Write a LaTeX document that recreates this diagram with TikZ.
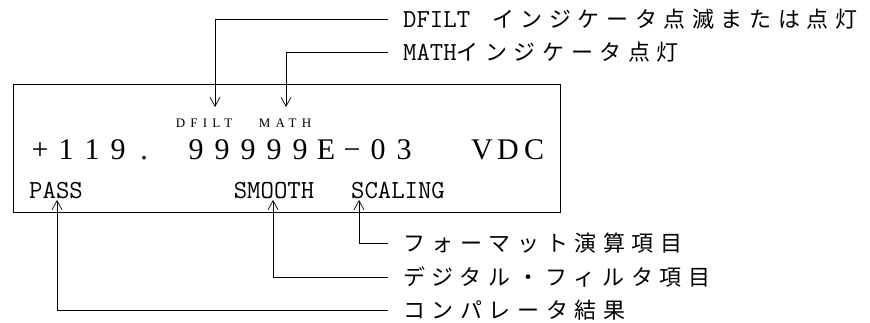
\documentclass[tikz,border=0pt]{standalone}
\usepackage{fontspec}
\usepackage{tikz}
\usetikzlibrary{arrows.meta, positioning}
\setmainfont{Liberation Serif}
\newfontfamily\lcdfont{Liberation Serif}
\newfontfamily\halffont{Latin Modern Mono}
\newfontfamily\tinyfont[LetterSpace=40]{Liberation Serif}
\newfontfamily\jpfont[LetterSpace=30]{Noto Sans CJK JP}
\newcommand{\halfw}[1]{{\fontsize{26}{26}\selectfont\halffont #1}}
\tikzset{
  panel/.style={draw, line width=0.8pt},
  pointer/.style={-{Straight Barb[length=9pt,width=10pt]}, line width=0.7pt},
  digit/.style={inner sep=0pt, anchor=base, font=\fontsize{30}{30}\selectfont\lcdfont},
  flag/.style={inner sep=0pt, anchor=base, font=\fontsize{26}{26}\selectfont\halffont},
  annun/.style={inner sep=0pt, anchor=base, font=\fontsize{13}{13}\selectfont\tinyfont},
  note/.style={anchor=west, inner xsep=15pt, inner ysep=0pt, font=\fontsize{22}{22}\selectfont\jpfont}
}

\begin{document}
\begin{tikzpicture}[x=1pt, y=-1pt]
  \useasboundingbox (0,0) rectangle (870,322);
  % display window
  \draw[panel] (13,84) rectangle (560,212);

  % main readout, one cell per character
  \foreach \x/\ch in {0/+,1/1,2/1,3/9,4/.,6/9,7/9,8/9,9/9,10/9,11/E,12/−,13/0,14/3,17/V,18/D,19/C}
    \node[digit] (dig\x) at (40+26*\x, 159) {\ch};

  % annunciators
  \node[annun] (sDfilt) at (204,127) {DFILT};
  \node[annun] (sMath) at (285,127) {MATH};

  % status words
  \node[flag] (sPass) at (56,198) {PASS};
  \node[flag] (sSmooth) at (274,198) {SMOOTH};
  \node[flag] (sScale) at (398,198) {SCALING};

  % explanations
  \node[note] (lblDfilt) at (388,19) {\halfw{DFILT}\hspace{22pt}インジケータ点滅または点灯};
  \node[note] (lblMath) at (388,52) {\halfw{MATH}インジケータ点灯};
  \node[note] (lblFormat) at (388,243) {フォーマット演算項目};
  \node[note] (lblFilter) at (388,277) {デジタル・フィルタ項目};
  \node[note] (lblComp) at (388,310) {コンパレータ結果};

  % arrow tips
  \coordinate (tDfilt) at (215,107);
  \coordinate (tMath) at (286,107);
  \coordinate (tPass) at (57,200);
  \coordinate (tSmooth) at (273,200);
  \coordinate (tScale) at (359,200);

  \draw[pointer] (lblDfilt.west) -| (tDfilt);
  \draw[pointer] (lblMath.west) -| (tMath);
  \draw[pointer] (lblFormat.west) -| (tScale);
  \draw[pointer] (lblFilter.west) -| (tSmooth);
  \draw[pointer] (lblComp.west) -| (tPass);
\end{tikzpicture}
\end{document}
